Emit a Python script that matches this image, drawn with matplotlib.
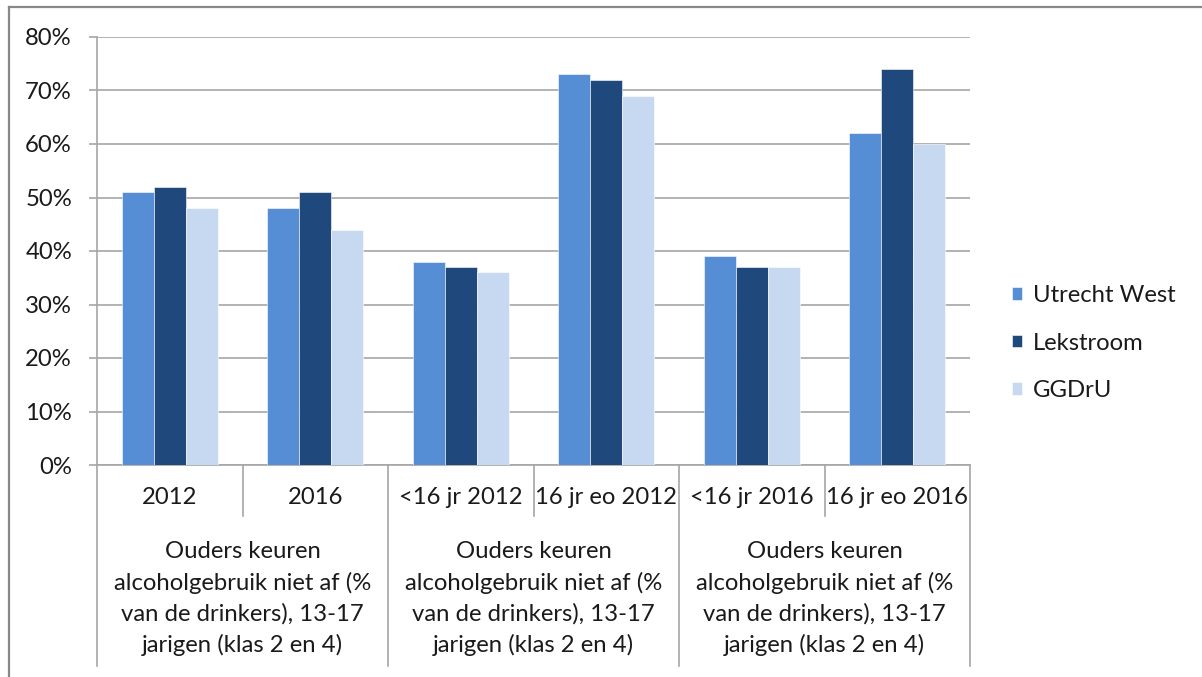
import numpy as np
import matplotlib
matplotlib.use("Agg")
import matplotlib.pyplot as plt
from matplotlib.lines import Line2D
from matplotlib.ticker import FuncFormatter

plt.rcParams["font.family"] = ["Lato", "DejaVu Sans"]

# data
sub_labels = ["2012", "2016", "<16 jr 2012", "16 jr eo 2012", "<16 jr 2016", "16 jr eo 2016"]
group_label = ["Ouders keuren", "alcoholgebruik niet af (%", "van de drinkers), 13-17", "jarigen (klas 2 en 4)"]
series_names = ["Utrecht West", "Lekstroom", "GGDrU"]
utrecht_west = [51, 48, 38, 73, 39, 62]
lekstroom = [52, 51, 37, 72, 37, 74]
ggdru = [48, 44, 36, 69, 37, 60]
colors = ["#558ED5", "#1F497D", "#C6D9F1"]

FS = 17.2
TXT = "#1a1a1a"

W, H = 1202, 677
fig = plt.figure(figsize=(W / 100, H / 100), dpi=100)

# plot area in pixels
left, right, top, bottom = 97, 970, 37, 465
ax = fig.add_axes([left / W, 1 - bottom / H, (right - left) / W, (bottom - top) / H])

x = np.arange(len(sub_labels))
bw = 0.22
for i, (vals, name) in enumerate(zip([utrecht_west, lekstroom, ggdru], series_names)):
    ax.bar(x + (i - 1) * bw, vals, bw, color=colors[i], label=name,
           edgecolor="white", linewidth=0.4, zorder=3)

ax.set_xlim(-0.5, len(sub_labels) - 0.5)
ax.set_ylim(0, 80)
ax.set_yticks(range(0, 81, 10))
ax.yaxis.set_major_formatter(FuncFormatter(lambda v, p: f"{int(v)}%"))
ax.yaxis.grid(True, color="#A6A6A6", linewidth=1.2, zorder=0)
ax.set_axisbelow(True)
ax.tick_params(axis="y", length=6, color="#A6A6A6", width=1.2, pad=12,
               labelsize=FS, labelcolor=TXT)
ax.set_xticks([])
for s in ["top", "right"]:
    ax.spines[s].set_visible(False)
for s in ["left", "bottom"]:
    ax.spines[s].set_color("#A6A6A6")
    ax.spines[s].set_linewidth(1.2)

def yfrac(py):
    return (bottom - py) / (bottom - top)

tr = ax.get_xaxis_transform()

# category dividers
for k in range(len(sub_labels) + 1):
    xb = k - 0.5
    end = 666 if k % 2 == 0 else 516
    ax.add_line(Line2D([xb, xb], [0, yfrac(end)], transform=tr, color="#A6A6A6",
                       linewidth=1.2, clip_on=False))

# sub labels
for xi, lab in zip(x, sub_labels):
    ax.text(xi, yfrac(498), lab, transform=tr, ha="center", va="center",
            fontsize=FS, color=TXT, clip_on=False)

# group labels
for g in range(3):
    xc = 2 * g + 0.5
    for j, line in enumerate(group_label):
        ax.text(xc, yfrac(552 + j * 31), line, transform=tr, ha="center", va="center",
                fontsize=FS, color=TXT, clip_on=False)

leg = fig.legend(loc="center left", bbox_to_anchor=(990 / W, 1 - 343 / H),
                 frameon=False, fontsize=FS, handlelength=0.45, handleheight=0.45,
                 handletextpad=0.45, labelspacing=1.1)
for t in leg.get_texts():
    t.set_color(TXT)

# outer chart frame
fig.add_artist(Line2D([9 / W, 1], [1 - 7 / H, 1 - 7 / H], transform=fig.transFigure,
                      color="#888888", linewidth=1.6))
fig.add_artist(Line2D([9 / W, 9 / W], [0, 1 - 7 / H], transform=fig.transFigure,
                      color="#888888", linewidth=1.6))

fig.savefig("out.png", dpi=100)
